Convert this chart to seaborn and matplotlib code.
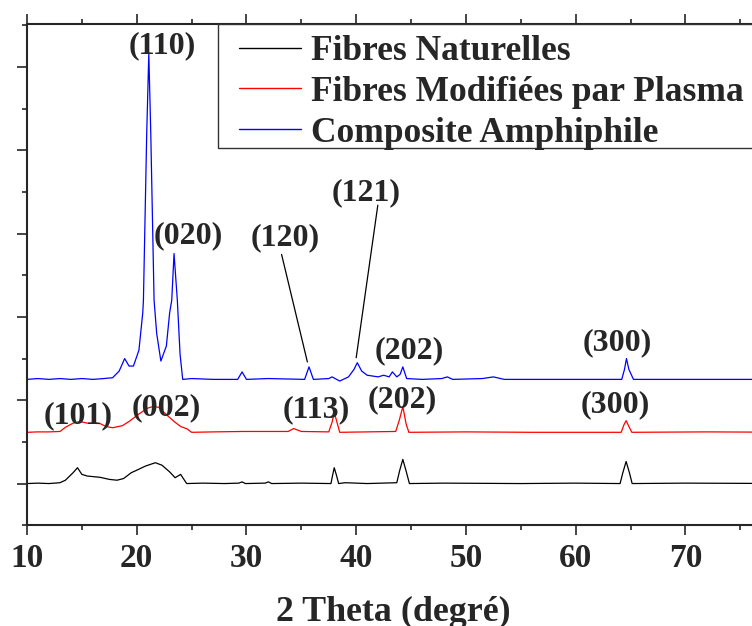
#Import Libraries
import matplotlib
matplotlib.use('Agg')
import matplotlib.pyplot as plt
import seaborn as sns
from matplotlib.ticker import MultipleLocator
from matplotlib.patches import Rectangle

#Data (2 theta, intensity above each baseline)
natX = [10, 11, 12, 13, 13.5, 14.2, 14.6, 15.0, 15.5, 16.65, 17.5, 18.2, 18.8, 19.5, 20.0, 20.8,
        21.7, 22.3, 23.0, 23.5, 24.0, 24.55, 26, 28, 29.3, 29.6, 29.9, 31.7, 32.0, 32.3, 35, 37.7,
        37.85, 38.0, 38.2, 38.4, 39.0, 41, 43.7, 43.95, 44.25, 44.55, 44.85, 48, 55, 60, 64.05,
        64.3, 64.6, 64.9, 65.15, 70, 80]
natY = [0, 0.005, 0, 0.01, 0.04, 0.13, 0.19, 0.11, 0.09, 0.075, 0.05, 0.04, 0.06, 0.13, 0.16, 0.21,
        0.25, 0.22, 0.14, 0.07, 0.11, 0.0, 0.005, 0, 0.005, 0.02, 0.0, 0.005, 0.02, 0.0, 0.005, 0.0,
        0.1, 0.19, 0.1, 0.0, 0.01, 0.0, 0.01, 0.15, 0.29, 0.15, 0.0, 0.005, 0.0, 0.005, 0.0,
        0.13, 0.265, 0.13, 0.0, 0.005, 0.0]

plasmaX = [10, 11, 12, 13, 13.5, 14.2, 14.8, 15.5, 16.65, 17.2, 17.8, 18.7, 19.3, 20.2, 21.0, 21.5,
           22.0, 22.8, 23.5, 24.0, 24.6, 25.0, 27, 29.7, 31.5, 33.8, 34.3, 35.0, 37.5, 37.8, 38.0,
           38.25, 38.5, 41, 43.6, 43.94, 44.25, 44.55, 44.8, 50, 56, 64.15, 64.4, 64.6, 64.85, 65.12,
           72, 80]
plasmaY = [0, 0.005, 0.005, 0.01, 0.06, 0.11, 0.13, 0.11, 0.105, 0.07, 0.055, 0.08, 0.13, 0.22, 0.29, 0.31,
           0.30, 0.2, 0.12, 0.07, 0.04, 0.0, 0.005, 0.01, 0.01, 0.01, 0.045, 0.01, 0.005, 0.12, 0.24,
           0.12, 0.0, 0.005, 0.01, 0.15, 0.31, 0.1, 0.0, 0.005, 0.0, 0.0, 0.09, 0.14, 0.07, 0.0,
           0.005, 0.0]

compX = [10, 11, 12, 13, 14, 15, 16, 17, 17.8, 18.4, 18.9, 19.3, 19.7, 20.2, 20.55, 20.61, 20.91,
         21.1, 21.28, 21.58, 21.82, 22.2, 22.7, 23.0, 23.19, 23.4, 23.7, 23.95, 24.19, 25, 27, 29.2,
         29.6, 30.0, 32, 35.3, 35.7, 36.1, 37.5, 37.8, 38.5, 39.3, 39.8, 40.1, 40.5, 41.0, 41.5, 42.0,
         42.5, 43.0, 43.3, 43.7, 44.0, 44.25, 44.6, 46, 47.8, 48.3, 48.8, 51.5, 52.5, 53.5, 58, 64.2,
         64.45, 64.63, 64.85, 65.27, 70, 80]
compY = [0, 0.01, 0, 0.01, 0, 0.01, 0, 0.01, 0.02, 0.1, 0.25, 0.16, 0.16, 0.35, 0.8, 0.95, 2.95,
         3.91, 2.95, 0.95, 0.55, 0.22, 0.4, 0.8, 0.95, 1.51, 0.95, 0.3, 0.0, 0.01, 0.0, 0.0,
         0.09, 0.0, 0.01, 0.0, 0.15, 0.0, 0.01, 0.03, -0.02, 0.03, 0.12, 0.2, 0.1, 0.05, 0.04, 0.03,
         0.05, 0.03, 0.09, 0.03, 0.06, 0.15, 0.01, 0.0, 0.01, 0.03, 0.0, 0.01, 0.03, 0.0, 0.0, 0.0,
         0.12, 0.25, 0.12, 0.0, 0.0, 0.0]

seriesNames = ['Fibres Naturelles', 'Fibres Modifiées par Plasma', 'Composite Amphiphile']
seriesColors = ['black', 'red', 'blue']
seriesOffsets = [0.0, 0.615, 1.25]

#Miller index labels: (text, x, y) and leader lines for two of them
peakLabels = [('(110)', 22.3, 5.26), ('(020)', 24.7, 2.98), ('(120)', 33.5, 2.95),
              ('(121)', 40.9, 3.49), ('(202)', 44.8, 1.59), ('(300)', 63.75, 1.69),
              ('(101)', 14.65, 0.82), ('(002)', 22.7, 0.91), ('(113)', 36.4, 0.89),
              ('(202)', 44.2, 1.01), ('(300)', 63.6, 0.95)]
leaderLines = [((33.2, 2.75), (35.55, 1.46)), ((41.97, 3.34), (40.0, 1.51))]
xTicks = [10, 20, 30, 40, 50, 60, 70]

#Style
sns.set_style('ticks')
plt.rcParams['font.family'] = ['Liberation Serif', 'DejaVu Serif']
plt.rcParams['font.weight'] = 'bold'

W, H = 752, 626
fig = plt.figure(figsize = (W / 100, H / 100), dpi = 100)
ax = fig.add_axes([27 / W, 0.161, (760 - 27) / W, 0.961 - 0.161])

allX = [natX, plasmaX, compX]
allY = [natY, plasmaY, compY]
for xs, ys, name, col, off in zip(allX, allY, seriesNames, seriesColors, seriesOffsets):
    sns.lineplot(x = xs, y = [v + off for v in ys], color = col, linewidth = 0.9,
                 label = name, ax = ax, sort = False)

for txt, tx, ty in peakLabels:
    ax.text(tx, ty, txt, ha = 'center', va = 'center', fontsize = 23, fontweight = 'bold')
for (x0, y0), (x1, y1) in leaderLines:
    ax.plot([x0, x1], [y0, y1], color = 'black', linewidth = 0.9)

ax.set_xlim(10, 76.8)
ax.set_ylim(-0.5, 5.51)
ax.set_xticks(xTicks)
ax.xaxis.set_minor_locator(MultipleLocator(5))
ax.yaxis.set_major_locator(MultipleLocator(1))
ax.yaxis.set_minor_locator(MultipleLocator(0.5))
ax.tick_params(which = 'both', top = True, direction = 'out', width = 1.2, labelleft = False, labeltop = False)
ax.tick_params(which = 'major', length = 7.5)
ax.tick_params(which = 'minor', length = 3.8)
ax.tick_params(axis = 'x', labelsize = 24, pad = 5)
for s in ax.spines.values():
    s.set_linewidth(1.5)
ax.set_xlabel('2 Theta (degré)', fontsize = 25.8, fontweight = 'bold', labelpad = 16)
ax.set_ylabel('')

#Legend box drawn by hand so the padding matches
ax.add_patch(Rectangle((218 / W, 1 - 148 / H), (W + 20 - 218) / W, (148 - 24) / H,
                       transform = fig.transFigure, facecolor = 'white', edgecolor = '#333333',
                       linewidth = 1.0, zorder = 5, clip_on = False))
leg = ax.legend(loc = 'upper left', bbox_to_anchor = (239 / W, 1 - 35 / H),
                bbox_transform = fig.transFigure, borderaxespad = 0, borderpad = 0,
                prop = {'weight': 'bold', 'size': 25.5}, handlelength = 1.75, handletextpad = 0.28,
                labelspacing = 0.22, frameon = False)
leg.set_zorder(6)
for ln in leg.get_lines():
    ln.set_linewidth(1.0)

plt.savefig('out.png', dpi = 100)
